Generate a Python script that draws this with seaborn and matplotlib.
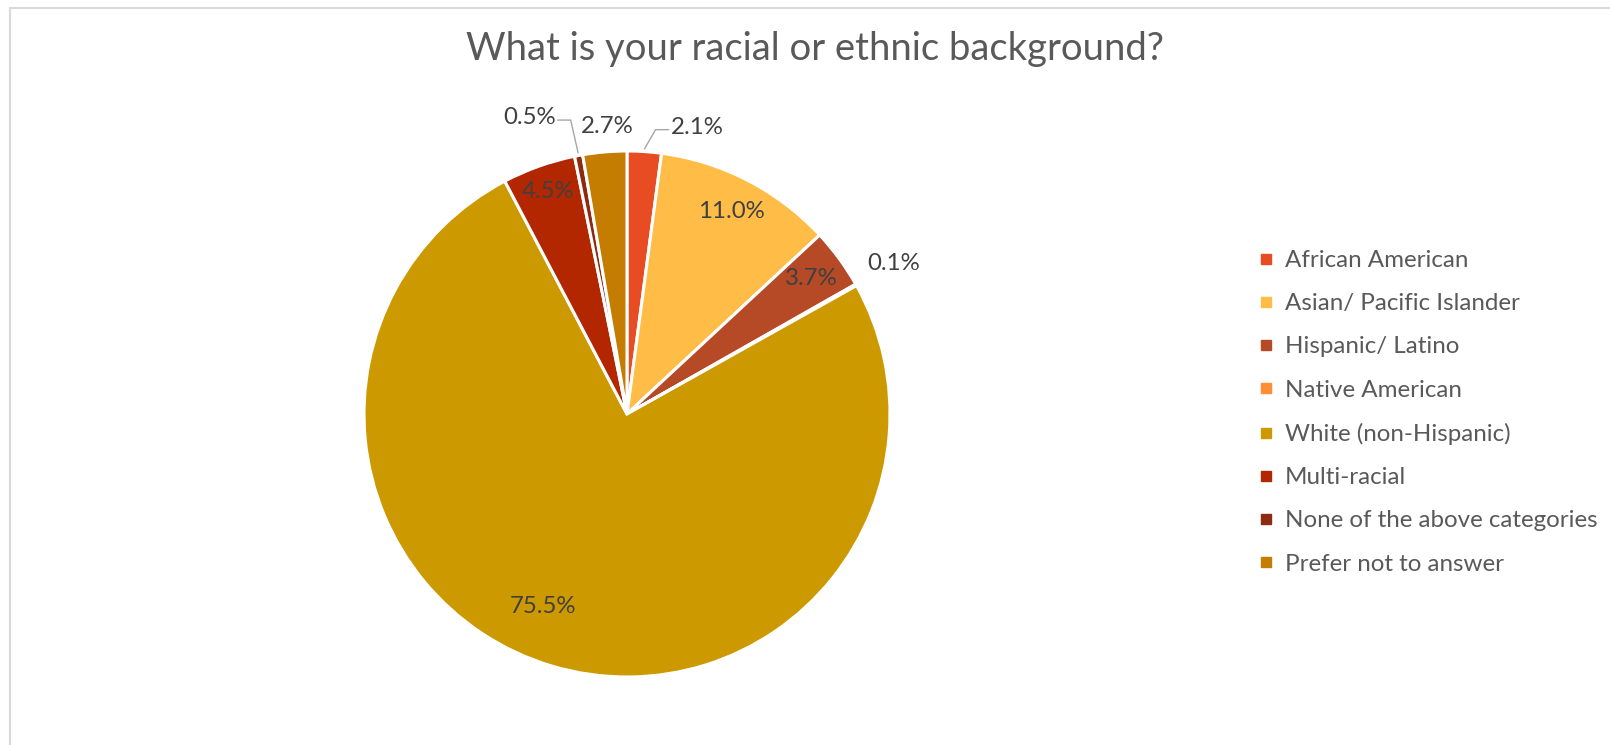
import numpy as np
import matplotlib
matplotlib.use("Agg")
import matplotlib.pyplot as plt
from matplotlib.lines import Line2D
import seaborn as sns

categories = ["African American", "Asian/ Pacific Islander", "Hispanic/ Latino",
              "Native American", "White (non-Hispanic)", "Multi-racial",
              "None of the above categories", "Prefer not to answer"]
values = [2.1, 11.0, 3.7, 0.1, 75.5, 4.5, 0.5, 2.7]
colors = ["#E84C22", "#FFBD47", "#B64926", "#FF8F32", "#CC9900", "#B22600", "#8E2A11", "#C47D00"]
title = "What is your racial or ethnic background?"

# label layout (radius factor, angular nudge in degrees, leader line side)
label_r = [1.123, 0.866, 0.87, 1.163, 0.80, 0.898, 1.187, 1.097]
label_dang = [-9.9, 0.0, 0.0, 0.0, -7.0, 0.0, 7.6, -0.9]
leader = [1, 0, 0, 0, 0, 0, -1, 0]

sns.set_theme(style="white")
plt.rcParams["font.family"] = ["Lato", "DejaVu Sans"]

W, H = 1610, 745
fig = plt.figure(figsize=(W / 100, H / 100), dpi=100)
cx, cy, R = 627, 414, 263
ax = fig.add_axes([(cx - R) / W, (H - cy - R) / H, 2 * R / W, 2 * R / H])

pal = sns.color_palette(colors)
wedges, _ = ax.pie(values, colors=pal, startangle=90, counterclock=False, radius=1,
                   wedgeprops=dict(edgecolor="white", linewidth=2.2))
ax.set_xlim(-1, 1)
ax.set_ylim(-1, 1)
ax.axis("off")

txt_color = "#404040"
for w, v, r, da, ld in zip(wedges, values, label_r, label_dang, leader):
    mid = np.deg2rad((w.theta1 + w.theta2) / 2)
    a = mid + np.deg2rad(da)
    tx, ty = r * np.cos(a), r * np.sin(a)
    ax.text(tx, ty, f"{v:.1f}%", ha="center", va="center", fontsize=17.3, color=txt_color)
    if ld != 0:
        sx, sy = 1.01 * np.cos(mid), 1.01 * np.sin(mid)
        hw = 0.095
        ex = tx - ld * (hw + 0.012)
        ey = ty - 0.01
        elx = ex - ld * 0.05
        ax.plot([sx, elx, ex], [sy, ey, ey], color="#A6A6A6", lw=1.0, clip_on=False)

fig.text(815 / W, 1 - 49 / H, title, ha="center", va="center", fontsize=27.5, color="#595959")

handles = [Line2D([0], [0], marker="s", linestyle="none", markersize=6.5,
                  markerfacecolor=c, markeredgecolor=c) for c in pal]
leg = fig.legend(handles, categories, loc="upper left",
                 bbox_to_anchor=(1258 / W, 1 - 250 / H), frameon=False,
                 fontsize=17.4, labelspacing=0.92, handlelength=0.7, handletextpad=0.4,
                 borderpad=0, borderaxespad=0)
for t in leg.get_texts():
    t.set_color("#595959")

# chart frame (top and left edges visible)
fig.add_artist(Line2D([10 / W, 10 / W, 1], [0, 1 - 8 / H, 1 - 8 / H],
                      transform=fig.transFigure, color="#D9D9D9", lw=1.5))

fig.savefig("out.png", dpi=100, facecolor="white")
